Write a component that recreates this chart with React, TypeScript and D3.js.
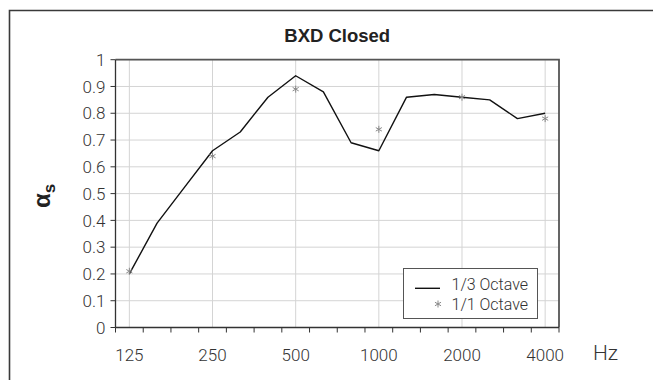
import React from "react";
import * as d3 from "d3";

const bands: string[] = ["125","160","200","250","315","400","500","630","800","1000","1250","1600","2000","2500","3150","4000"];
const thirdOctave: number[] = [0.20,0.39,0.525,0.66,0.73,0.86,0.94,0.88,0.69,0.66,0.86,0.87,0.86,0.85,0.78,0.80];
const octaveBands: string[] = ["125","250","500","1000","2000","4000"];
const octave: number[] = [0.21,0.64,0.89,0.74,0.86,0.78];
const yTicks: number[] = [0,0.1,0.2,0.3,0.4,0.5,0.6,0.7,0.8,0.9,1];
const xLabels: string[] = ["125","250","500","1000","2000","4000"];
const title = "BXD Closed";
const legendLabels: string[] = ["1/3 Octave","1/1 Octave"];

const W = 653, H = 380;
const L = 115.5, R = 559, T = 59.7, B = 327.5;
const FONT = "Roboto, 'Liberation Sans', Arial, sans-serif";

export default function App() {
  const x = d3.scaleBand<string>().domain(bands).range([L, R]);
  const cx = (b: string) => (x(b) as number) + x.bandwidth() / 2;
  const y = d3.scaleLinear().domain([0, 1]).range([B, T]);
  const line = d3.line<number>().x((_, i) => cx(bands[i])).y((v) => y(v));
  const star = d3.symbol().type(d3.symbolAsterisk).size(34)() as string;
  const boundaries = bands.map((b) => x(b) as number).concat([R]);

  return (
    <svg width={W} height={H} style={{ position: "absolute", left: 0, top: 0, background: "#fff" }} fontFamily={FONT}>
      <rect x={0} y={0} width={W} height={H} fill="#fff" />
      {/* outer frame */}
      <path d={`M9.5,${H + 2}V10.5H${W + 2}`} fill="none" stroke="#3a3a3a" strokeWidth={1.6} />
      {/* title */}
      <text x={(L + R) / 2} y={41.5} textAnchor="middle" fontSize={18.5} fontWeight="bold" fill="#222" fontFamily="'Liberation Sans', Arial, sans-serif">{title}</text>
      {/* grid */}
      {yTicks.map((t) => (
        <line key={"gy" + t} x1={L} x2={R} y1={y(t)} y2={y(t)} stroke="#d4d4d4" strokeWidth={1} />
      ))}
      {xLabels.map((b) => (
        <line key={"gx" + b} x1={cx(b)} x2={cx(b)} y1={T} y2={B} stroke="#d4d4d4" strokeWidth={1} />
      ))}
      {/* plot border top/right */}
      <path d={`M${L},${T}H${R}V${B}`} fill="none" stroke="#555" strokeWidth={1.8} />
      {/* axes */}
      <line x1={L} x2={L} y1={T} y2={B} stroke="#333" strokeWidth={1.3} />
      <line x1={L} x2={R} y1={B} y2={B} stroke="#333" strokeWidth={1.3} />
      {yTicks.map((t) => (
        <g key={"yt" + t}>
          <line x1={L - 5} x2={L} y1={y(t)} y2={y(t)} stroke="#333" strokeWidth={1} />
          <text x={L - 10} y={y(t)} dy="0.36em" textAnchor="end" fontSize={17} fill="#333" fontWeight={300}>{String(t)}</text>
        </g>
      ))}
      {boundaries.map((bx, i) => (
        <line key={"xt" + i} x1={bx} x2={bx} y1={B} y2={B + 5} stroke="#333" strokeWidth={1} />
      ))}
      {xLabels.map((b) => (
        <text key={"xl" + b} x={cx(b)} y={361} textAnchor="middle" fontSize={17} fill="#333" fontWeight={300}>{b}</text>
      ))}
      <text x={593} y={360} fontSize={21} fill="#333" fontWeight={300}>Hz</text>
      {/* y axis label */}
      <text transform="translate(50,196) rotate(-90)" textAnchor="middle" fontSize={24} fontWeight="bold" fill="#222" fontFamily="'Liberation Sans', Arial, sans-serif">
        α<tspan fontSize={17} dy={5}>s</tspan>
      </text>
      {/* data */}
      <path d={line(thirdOctave) as string} fill="none" stroke="#111" strokeWidth={1.4} strokeLinejoin="round" />
      {octave.map((v, i) => (
        <path key={"st" + i} d={star} transform={`translate(${cx(octaveBands[i])},${y(v)})`} fill="none" stroke="#888" strokeWidth={1} />
      ))}
      {/* legend */}
      <rect x={403.5} y={268.5} width={134} height={50} fill="#fff" stroke="#555" strokeWidth={1} />
      <line x1={415} x2={440} y1={288.3} y2={288.3} stroke="#111" strokeWidth={1.4} />
      <path d={star} transform="translate(438,304)" fill="none" stroke="#888" strokeWidth={1} />
      <text x={451.5} y={290} fontSize={16} fill="#333" fontWeight={300}>{legendLabels[0]}</text>
      <text x={451.5} y={309.5} fontSize={16} fill="#333" fontWeight={300}>{legendLabels[1]}</text>
    </svg>
  );
}
